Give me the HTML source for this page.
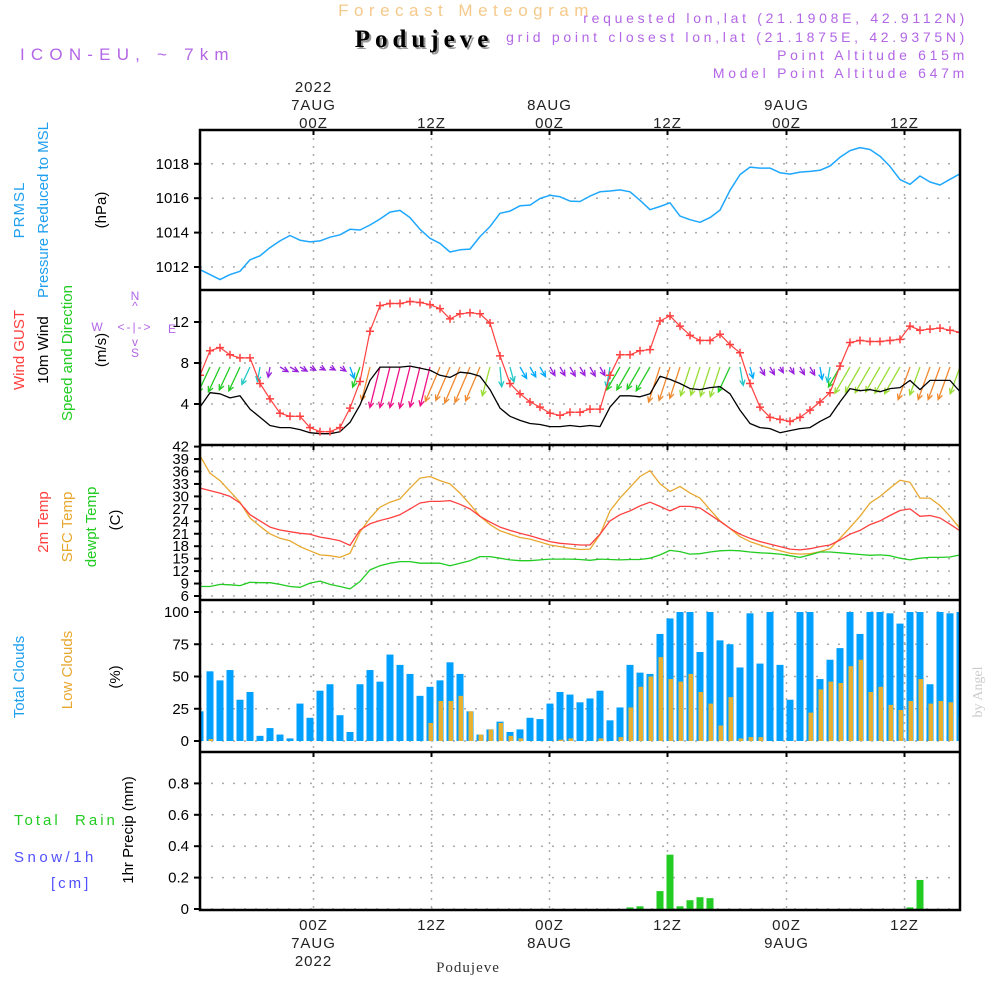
<!DOCTYPE html>
<html><head><meta charset="utf-8"><title>Forecast Meteogram - Podujeve</title>
<style>
html,body{margin:0;padding:0;background:#fff;}
svg{display:block;font-family:"Liberation Sans",sans-serif;}
</style></head>
<body>
<svg id="chart" width="1000" height="1000" viewBox="0 0 1000 1000" xmlns="http://www.w3.org/2000/svg">
<defs><clipPath id="plotclip"><rect x="201" y="130" width="758" height="780"/></clipPath></defs>
<g id="header">
<text x="466" y="16" text-anchor="middle" font-size="17" fill="#f5c98a" letter-spacing="5.5">Forecast Meteogram</text>
<text x="426" y="49" text-anchor="middle" font-size="25" font-weight="bold" font-family="Liberation Serif,serif" fill="#999" letter-spacing="5">Podujeve</text>
<text x="424" y="47" text-anchor="middle" font-size="25" font-weight="bold" font-family="Liberation Serif,serif" fill="#000" letter-spacing="5">Podujeve</text>
<text x="20" y="60" font-size="17" fill="#b366e6" letter-spacing="6.2">ICON-EU, ~ 7km</text>
<g font-size="14" fill="#b366e6" text-anchor="end" letter-spacing="3.7">
<text x="968" y="23">requested lon,lat (21.1908E, 42.9112N)</text>
<text x="968" y="42">grid point closest lon,lat (21.1875E, 42.9375N)</text>
<text x="968" y="60">Point Altitude 615m</text>
<text x="968" y="78">Model Point Altitude 647m</text>
</g>
</g>
<g id="ylabels" font-size="15">
<text transform="translate(24,210) rotate(-90)" text-anchor="middle" fill="#1e9fef" letter-spacing="1">PRMSL</text>
<text transform="translate(48,210) rotate(-90)" text-anchor="middle" fill="#1e9fef">Pressure Reduced to MSL</text>
<text transform="translate(106,210) rotate(-90)" text-anchor="middle" fill="#000">(hPa)</text>
<text transform="translate(24,350) rotate(-90)" text-anchor="middle" fill="#ff4040">Wind GUST</text>
<text transform="translate(48,350) rotate(-90)" text-anchor="middle" fill="#000">10m Wind</text>
<text transform="translate(72,353) rotate(-90)" text-anchor="middle" fill="#22cc22">Speed and Direction</text>
<text transform="translate(106,350) rotate(-90)" text-anchor="middle" fill="#000">(m/s)</text>
<g fill="#b366e6" font-size="12">
<text x="135" y="300" text-anchor="middle">N</text>
<text x="135" y="310" text-anchor="middle">^</text>
<text x="97" y="331" text-anchor="middle">W</text>
<text x="135" y="331" text-anchor="middle" letter-spacing="2">&lt;-|-&gt;</text>
<text x="172" y="333" text-anchor="middle">E</text>
<text x="135" y="346" text-anchor="middle">v</text>
<text x="135" y="357" text-anchor="middle">S</text>
</g>
<text transform="translate(48,522) rotate(-90)" text-anchor="middle" fill="#ff4040">2m Temp</text>
<text transform="translate(72,527) rotate(-90)" text-anchor="middle" fill="#e8a830">SFC Temp</text>
<text transform="translate(96,527) rotate(-90)" text-anchor="middle" fill="#22cc22">dewpt Temp</text>
<text transform="translate(120,520) rotate(-90)" text-anchor="middle" fill="#000">(C)</text>
<text transform="translate(24,677) rotate(-90)" text-anchor="middle" fill="#1e9fef">Total Clouds</text>
<text transform="translate(72,670) rotate(-90)" text-anchor="middle" fill="#e8a830">Low Clouds</text>
<text transform="translate(120,677) rotate(-90)" text-anchor="middle" fill="#000">(%)</text>
<text x="14" y="825" fill="#22cc22" xml:space="preserve" letter-spacing="3">Total  Rain</text>
<text x="14" y="862" fill="#5050ff" letter-spacing="3.5">Snow/1h</text>
<text x="51" y="888" fill="#5050ff" letter-spacing="3">[cm]</text>
<text transform="translate(133,830) rotate(-90)" text-anchor="middle" fill="#000">1hr Precip (mm)</text>
<text transform="translate(982,692) rotate(-90)" text-anchor="middle" fill="#ccc" font-family="Liberation Serif,serif" font-size="14">by Angel</text>
<text x="468" y="972" text-anchor="middle" font-family="Liberation Serif,serif" font-size="15" letter-spacing="1" fill="#333">Podujeve</text>
</g>
<g id="grid"></g>
<g id="marks" clip-path="url(#plotclip)"></g>
<g id="frame"></g>
<g id="ticks" font-size="15"></g>
</svg>
<script>
// ---- data (hourly, index k) ----
const timeLabelsTop = ["00Z","12Z","00Z","12Z","00Z","12Z"];
const dayLabels = ["7AUG","","8AUG","","9AUG",""];
const tickK = [11.35,23.15,34.95,46.75,58.65,70.45];
const pressure = [1011.85,1011.56,1011.27,1011.56,1011.75,1012.42,1012.65,1013.13,1013.52,1013.83,1013.56,1013.46,1013.52,1013.73,1013.87,1014.19,1014.15,1014.44,1014.79,1015.19,1015.29,1014.87,1014.19,1013.67,1013.37,1012.87,1013.0,1013.04,1013.77,1014.35,1015.12,1015.25,1015.56,1015.6,1015.98,1016.17,1016.08,1015.83,1015.81,1016.12,1016.37,1016.42,1016.48,1016.37,1015.88,1015.33,1015.52,1015.73,1014.96,1014.75,1014.6,1014.87,1015.31,1016.46,1017.37,1017.81,1017.75,1017.75,1017.48,1017.4,1017.52,1017.56,1017.62,1017.87,1018.38,1018.77,1018.94,1018.83,1018.44,1017.85,1017.08,1016.81,1017.29,1016.94,1016.77,1017.1,1017.42];
const gust = [6.8,9.2,9.5,8.8,8.5,8.5,6.0,4.5,3.1,2.8,2.8,1.7,1.3,1.3,1.7,3.6,6.2,11.1,13.6,13.8,13.8,14.0,13.9,13.7,13.3,12.3,12.8,12.9,12.8,11.9,8.7,6.0,5.0,4.2,3.7,3.1,2.9,3.2,3.2,3.5,3.5,6.8,8.8,8.8,9.2,9.3,12.1,12.6,11.6,10.7,10.2,10.2,10.8,9.8,9.0,6.0,3.7,2.7,2.5,2.3,2.7,3.4,4.2,5.1,7.7,10.0,10.2,10.1,10.1,10.2,10.3,11.6,11.2,11.3,11.4,11.2,11.0];
const wind10m = [3.7,5.1,5.0,4.6,4.8,3.5,2.7,1.9,1.7,1.7,1.5,1.2,1.1,1.1,1.3,2.2,3.9,6.3,7.6,7.6,7.6,7.7,7.5,7.3,6.8,6.6,7.1,7.0,6.7,5.4,3.6,2.8,2.4,2.1,2.0,1.8,1.8,1.9,1.8,1.9,1.8,3.7,4.8,4.8,4.7,5.0,6.7,6.4,6.0,5.5,5.4,5.6,5.7,5.0,3.4,2.1,1.7,1.6,1.2,1.4,1.6,1.7,2.3,2.8,4.2,5.5,5.3,5.4,5.2,5.5,5.6,6.3,5.4,6.3,6.3,6.3,5.2];
const windDir = [205,205,205,205,205,205,190,190,120,120,120,120,120,120,125,160,200,194,194,194,194,194,194,194,203,203,203,203,203,195,175,165,150,150,150,150,150,150,150,150,150,190,210,210,210,210,198,198,198,198,198,198,198,205,170,165,150,150,150,150,150,150,170,190,210,210,210,210,210,210,210,200,200,200,200,200,200];
const temp2m = [32.0,31.4,30.8,30.0,28.4,25.6,24.1,22.6,21.9,21.5,21.1,20.9,20.2,19.8,19.3,18.2,21.9,23.4,24.2,24.8,25.6,27.0,28.4,28.8,28.8,29.0,28.1,27.0,25.2,23.8,22.6,21.8,21.1,20.5,19.8,19.1,18.7,18.5,18.3,18.3,20.9,24.1,25.6,26.5,27.7,28.6,27.6,26.5,27.6,27.6,27.2,25.6,24.0,22.3,20.9,19.9,19.1,18.5,17.9,17.3,17.1,17.4,17.9,18.3,19.5,20.9,21.8,23.2,24.1,25.4,26.6,27.0,25.2,25.4,24.8,23.3,21.7];
const tempSfc = [39.8,35.6,33.8,31.2,28.6,24.8,22.8,21.0,19.9,19.3,17.9,16.9,15.9,15.7,15.3,16.3,21.4,24.8,27.4,28.6,29.4,32.0,34.4,34.8,33.8,33.0,30.8,28.1,25.2,23.2,21.7,20.9,20.1,19.7,19.0,18.3,17.9,17.5,17.2,17.3,20.8,26.5,29.6,32.2,34.8,36.2,33.0,31.2,32.4,30.8,29.6,26.8,24.1,22.3,20.3,19.1,18.3,17.5,16.9,16.3,16.1,16.2,16.7,17.4,19.9,22.5,25.2,28.4,30.0,32.0,33.9,33.4,29.6,29.6,27.8,25.2,22.3];
const dewpt = [8.3,8.3,8.8,8.7,8.5,9.3,9.2,9.2,8.8,8.3,8.1,9.1,9.6,8.8,8.3,7.7,9.5,12.3,13.3,13.9,14.3,14.3,13.9,13.9,13.9,13.3,13.9,14.5,15.5,15.5,15.1,14.7,14.5,14.5,14.7,14.9,14.9,14.9,14.8,14.6,14.9,14.8,14.7,14.8,14.8,15.1,15.9,17.0,16.7,16.1,16.2,16.6,16.9,17.0,16.9,16.6,16.4,16.3,16.1,15.7,15.3,15.9,16.6,16.6,16.4,16.2,16.0,15.8,15.9,15.7,15.1,14.7,15.1,15.3,15.3,15.4,15.9];
const totalClouds = [23,54,47,55,32,38,4,10,5,2,29,18,39,44,20,7,44,55,46,67,59,52,35,42,47,61,52,23,5,9,15,7,9,18,17,29,38,36,30,33,39,16,26,59,53,52,83,95,100,100,69,100,78,75,57,99,60,100,59,32,100,100,48,63,72,100,83,100,100,99,91,100,100,44,100,99,100];
const lowClouds = [0,1.5,0,0,0,0,0,0,0,0,0,0,0,0,0,0,0,0,0,0,0,0,0,14,31,31,35,23,5,9,14,4,2,0,0,0,1,2,0,0,2,0,3,26,42,50,65,48,46,52,38,29,12,34,2,3,3,0,0,0,0,22,40,46,45,58,63,38,42,28,24,31,48,29,31,30,19];
const precip = [0,0,0,0,0,0,0,0,0,0,0,0,0,0,0,0,0,0,0,0,0,0,0,0,0,0,0,0,0,0,0,0,0,0,0,0,0,0,0,0,0,0,0,0.01,0.017,0,0.114,0.346,0.017,0.056,0.075,0.069,0,0,0,0,0,0,0,0,0,0,0,0,0,0,0,0,0,0,0,0.01,0.185,0,0,0,0];
const pTicks = [1012,1014,1016,1018];
const wTicks = [4,8,12];
const tTicks = [6,9,12,15,18,21,24,27,30,33,36,39,42];
const cTicks = [0,25,50,75,100];
const rTicks = [0,0.2,0.4,0.6,0.8];

// ---- scales ----
const NS="http://www.w3.org/2000/svg";
const xs = k => 200 + 10*k;
const yP = v => 267 - (v-1012)*17.2;
const yW = v => 445 - v*10.25;
const yT = v => 596 - (v-6)*4.15;
const yC = v => 741 - v*1.29;
const yR = v => 909 - v*157;
function mk(tag, attrs, parent){const e=document.createElementNS(NS,tag);for(const a in attrs)e.setAttribute(a,attrs[a]);parent.appendChild(e);return e;}
const grid=document.getElementById('grid'), marks=document.getElementById('marks'), frame=document.getElementById('frame'), ticks=document.getElementById('ticks');
const panels=[[130,290],[290,445],[445,600],[600,752],[752,910]];

// vertical grid
tickK.forEach((k,i)=>{
  const g=mk('line',{x1:xs(k),x2:xs(k),y1:130,y2:910,stroke:'#aaa','stroke-width':1.5,'stroke-dasharray':'2 6'},grid);
  
  
  panels.forEach(p=>{mk('line',{x1:xs(k),x2:xs(k),y1:p[0],y2:p[0]+5,stroke:'#000','stroke-width':2},ticks);});
  const t1=mk('text',{x:xs(k),y:128,'text-anchor':'middle',fill:'#222','letter-spacing':1},ticks); t1.textContent=timeLabelsTop[i];
  
  
  if(dayLabels[i]){const t2=mk('text',{x:xs(k),y:110,'text-anchor':'middle',fill:'#222','letter-spacing':1},ticks);t2.textContent=dayLabels[i];
    
    }
  const b1=mk('text',{x:xs(k),y:930,'text-anchor':'middle',fill:'#222','letter-spacing':1},ticks); b1.textContent=timeLabelsTop[i];
  
  
  if(dayLabels[i]){const b2=mk('text',{x:xs(k),y:948,'text-anchor':'middle',fill:'#222','letter-spacing':1},ticks);b2.textContent=dayLabels[i];
    
    }
});
const y1=mk('text',{x:xs(tickK[0]),y:92,'text-anchor':'middle',fill:'#222','letter-spacing':1},ticks);y1.textContent="2022";


const y2=mk('text',{x:xs(tickK[0]),y:966,'text-anchor':'middle',fill:'#222','letter-spacing':1},ticks);y2.textContent="2022";



function yaxis(vals, sc, fmt, name){
  vals.forEach(v=>{
    const y=sc(v);
    const gl=mk('line',{x1:200,x2:960,y1:y,y2:y,stroke:'#aaa','stroke-width':1.5,'stroke-dasharray':'2 9'},grid);
    
    
    mk('line',{x1:194,x2:200,y1:y,y2:y,stroke:'#000','stroke-width':2},ticks);
    const t=mk('text',{x:189,y:y+5,'text-anchor':'end',fill:'#000'},ticks);t.textContent=fmt(v);
    
    
  });
}
yaxis(pTicks,yP,v=>v,'pressure');
yaxis(wTicks,yW,v=>v,'wind');
yaxis(tTicks,yT,v=>v,'temp');
yaxis(cTicks,yC,v=>v,'cloud');
yaxis(rTicks,yR,v=>v===0?'0':v.toFixed(1),'precip');

// frame
const fr=mk('rect',{x:200,y:130,width:760,height:780,fill:'none',stroke:'#000','stroke-width':2.5},frame);


[290,445,600,752].forEach(y=>{const l=mk('line',{x1:200,x2:960,y1:y,y2:y,stroke:'#000','stroke-width':2.5},frame);
  
  });

function line(arr, sc, color, name, w){
  const d=arr.map((v,k)=>(k?'L':'M')+xs(k).toFixed(1)+','+sc(v).toFixed(1)).join(' ');
  const p=mk('path',{d:d,fill:'none',stroke:color,'stroke-width':w||1.5,'stroke-linejoin':'round'},marks);
  
  
}

// clouds
totalClouds.forEach((v,k)=>{
  const r=mk('rect',{x:xs(k)-3.5,y:yC(v),width:7,height:yC(0)-yC(v),fill:'#00a0ff'},marks);
  
  
});
lowClouds.forEach((v,k)=>{
  if(v<=0)return;
  const r=mk('rect',{x:xs(k)-1.5,y:yC(v),width:4.5,height:yC(0)-yC(v),fill:'#e8b030'},marks);
  
  
});
// precip
precip.forEach((v,k)=>{
  if(v<=0)return;
  const r=mk('rect',{x:xs(k)-3.5,y:yR(v),width:7,height:yR(0)-yR(v),fill:'#22cc22'},marks);
  
  
});

// pressure
line(pressure,yP,'#1ea7ff','pressure-line',1.5);
// temperatures
line(tempSfc,yT,'#e8a830','sfc-temp-line',1.3);
line(temp2m,yT,'#ff4040','2m-temp-line',1.3);
line(dewpt,yT,'#22cc22','dewpt-temp-line',1.3);

// wind arrows
function windColor(s){ if(s<2)return '#9922dd'; if(s<2.6)return '#00aaff'; if(s<3.8)return '#22c8c8'; if(s<5.2)return '#22cc22'; if(s<5.8)return '#99dd33'; if(s<7.2)return '#f08a30'; return '#ee1188';}
wind10m.forEach((s,k)=>{
  const L=5.5*s, h=windDir[k]*Math.PI/180;
  const x0=xs(k), y0=367, x1=x0+L*Math.sin(h), y1=y0-L*Math.cos(h);
  const a=Math.atan2(y1-y0,x1-x0), hl=6;
  const hx1=x1-hl*Math.cos(a-0.45), hy1=y1-hl*Math.sin(a-0.45);
  const hx2=x1-hl*Math.cos(a+0.45), hy2=y1-hl*Math.sin(a+0.45);
  const p=mk('path',{d:`M${x0},${y0}L${x1},${y1}M${hx1},${hy1}L${x1},${y1}L${hx2},${hy2}`,fill:'none',stroke:windColor(s),'stroke-width':1.3},marks);
  
  
});
line(wind10m,yW,'#000','wind-10m-line',1.3);
line(gust,yW,'#ff4040','wind-gust-line',1.2);
gust.forEach((v,k)=>{
  const x=xs(k),y=yW(v);
  const p=mk('path',{d:`M${x-4},${y}L${x+4},${y}M${x},${y-4}L${x},${y+4}`,stroke:'#ff4040','stroke-width':1.5},marks);
  
  
});
</script>
</body></html>
